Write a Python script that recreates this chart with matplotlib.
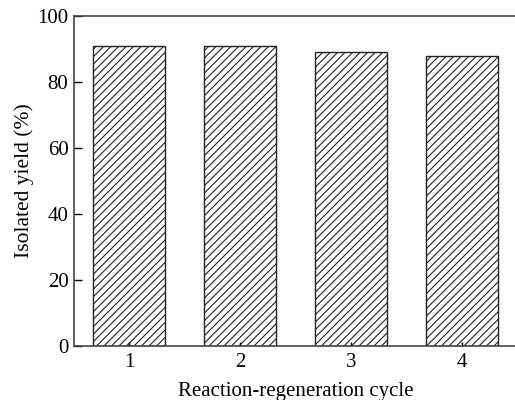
import matplotlib
matplotlib.use("Agg")
import matplotlib.pyplot as plt

cycles = [1, 2, 3, 4]
yields = [91, 91, 89, 88]
yticks = [0, 20, 40, 60, 80, 100]

DPI = 90
k = 100 / DPI  # scale points so pixel sizes match a 100-dpi layout

plt.rcParams['font.family'] = ['Liberation Serif', 'DejaVu Serif']
plt.rcParams['hatch.linewidth'] = 0.8 * k
plt.rcParams['hatch.color'] = '#222222'

W, H = 515, 400
fig = plt.figure(figsize=(W / DPI, H / DPI), dpi=DPI)
left, right, top, bottom = 74, 517.5, 16, 346
ax = fig.add_axes([left / W, 1 - bottom / H, (right - left) / W, (bottom - top) / H])

ax.bar(cycles, yields, width=0.65, color='white', edgecolor='#222222',
       hatch='////', linewidth=1.0 * k)

ax.set_xlim(0.5, 4.5)
ax.set_ylim(0, 100)
ax.set_xticks(cycles)
ax.set_yticks(yticks)
ax.tick_params(axis='y', direction='in', length=6 * k, width=1 * k, labelsize=15 * k, pad=4 * k)
ax.tick_params(axis='x', direction='in', length=3 * k, width=1 * k, labelsize=15 * k, pad=5 * k)
for s in ['left', 'bottom', 'top', 'right']:
    ax.spines[s].set_color('#444444')
    ax.spines[s].set_linewidth(1.2 * k)

ax.set_xlabel('Reaction-regeneration cycle', fontsize=15 * k, labelpad=7 * k)
ax.set_ylabel('Isolated yield (%)', fontsize=15.5 * k, labelpad=2.5 * k)

fig.savefig('out.png', dpi=DPI)
